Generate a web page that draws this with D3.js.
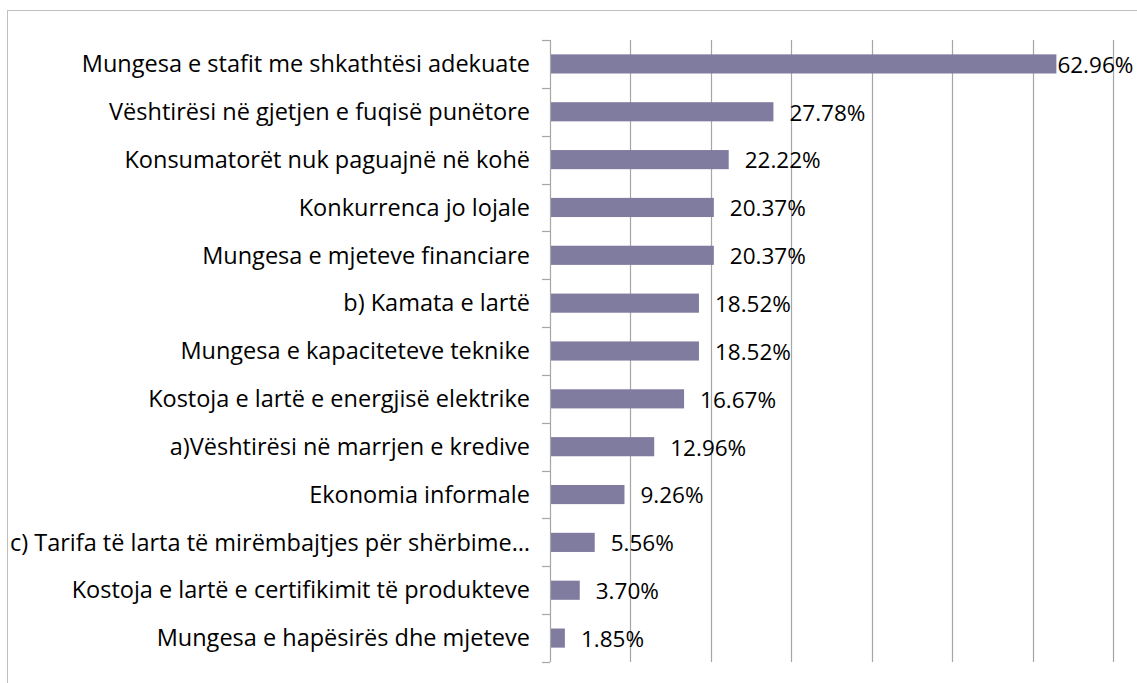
<!DOCTYPE html>
<html>
<head>
<meta charset="utf-8">
<script src="https://cdnjs.cloudflare.com/ajax/libs/d3/7.8.5/d3.min.js"></script>
<style>
  body { margin: 0; background: #fff; }
  text { font-family: "Open Sans", "Noto Sans", sans-serif; }
</style>
</head>
<body>
<svg id="chart" width="1137" height="683"></svg>
<script>
const categories = [
  "Mungesa e stafit me shkathtësi adekuate",
  "Vështirësi në gjetjen e fuqisë punëtore",
  "Konsumatorët nuk paguajnë në kohë",
  "Konkurrenca jo lojale",
  "Mungesa e mjeteve financiare",
  "b) Kamata e lartë",
  "Mungesa e kapaciteteve teknike",
  "Kostoja e lartë e energjisë elektrike",
  "a)Vështirësi në marrjen e kredive",
  "Ekonomia informale",
  "c) Tarifa të larta të mirëmbajtjes për shërbime…",
  "Kostoja e lartë e certifikimit të produkteve",
  "Mungesa e hapësirës dhe mjeteve"
];
const values = [62.96, 27.78, 22.22, 20.37, 20.37, 18.52, 18.52, 16.67, 12.96, 9.26, 5.56, 3.70, 1.85];
const xTicks = [0, 10, 20, 30, 40, 50, 60, 70];

const svg = d3.select("#chart");

// outer chart border (only left/top visible in the frame)
svg.append("rect")
  .attr("x", 7.5).attr("y", 10.5)
  .attr("width", 1200).attr("height", 800)
  .attr("fill", "none").attr("stroke", "#c0c0c0");

const plotLeft = 550, plotRight = 1113, plotTop = 40, plotBottom = 662;

const x = d3.scaleLinear().domain([0, 70]).range([plotLeft, plotRight]);
const y = d3.scaleBand().domain(categories).range([plotTop, plotBottom]).paddingInner(0.6).paddingOuter(0.3);
const yEdges = d3.range(categories.length + 1).map(i => plotTop + i * (plotBottom - plotTop) / categories.length);

// gridlines
svg.append("g").selectAll("line")
  .data(xTicks.slice(1))
  .join("line")
  .attr("x1", d => Math.round(x(d)) + 0.5).attr("x2", d => Math.round(x(d)) + 0.5)
  .attr("y1", plotTop).attr("y2", plotBottom)
  .attr("stroke", "#a6a6a6").attr("stroke-width", 1.2);

// bars
svg.append("g").selectAll("rect")
  .data(values)
  .join("rect")
  .attr("x", x(0))
  .attr("y", (d, i) => y(categories[i]))
  .attr("width", d => x(d) - x(0))
  .attr("height", y.bandwidth())
  .attr("fill", "#807c9f");

// y axis line and ticks
const ax = svg.append("g").attr("stroke", "#a6a6a6").attr("stroke-width", 1.2);
ax.append("line").attr("x1", plotLeft + 0.5).attr("x2", plotLeft + 0.5).attr("y1", plotTop).attr("y2", plotBottom);
ax.selectAll("line.tick")
  .data(yEdges)
  .join("line").attr("class", "tick")
  .attr("x1", plotLeft - 8).attr("x2", plotLeft)
  .attr("y1", d => Math.round(d) + 0.5).attr("y2", d => Math.round(d) + 0.5);

// category labels
svg.append("g").selectAll("text")
  .data(categories)
  .join("text")
  .attr("x", 530)
  .attr("y", d => y(d) + y.bandwidth() / 2)
  .attr("dy", "0.35em")
  .attr("text-anchor", "end")
  .attr("font-size", 23.5)
  .attr("fill", "#000")
  .text(d => d);

// value labels
svg.append("g").selectAll("text")
  .data(values)
  .join("text")
  .attr("y", (d, i) => y(categories[i]) + y.bandwidth() / 2 + 1)
  .attr("dy", "0.35em")
  .attr("font-size", 22.5)
  .attr("fill", "#000")
  .text(d => d.toFixed(2) + "%")
  .attr("x", function (d) {
    const w = this.getComputedTextLength();
    const px = x(d) + 16;
    return px + w > 1135 ? x(d) + 1 : px;
  });
</script>
</body>
</html>
